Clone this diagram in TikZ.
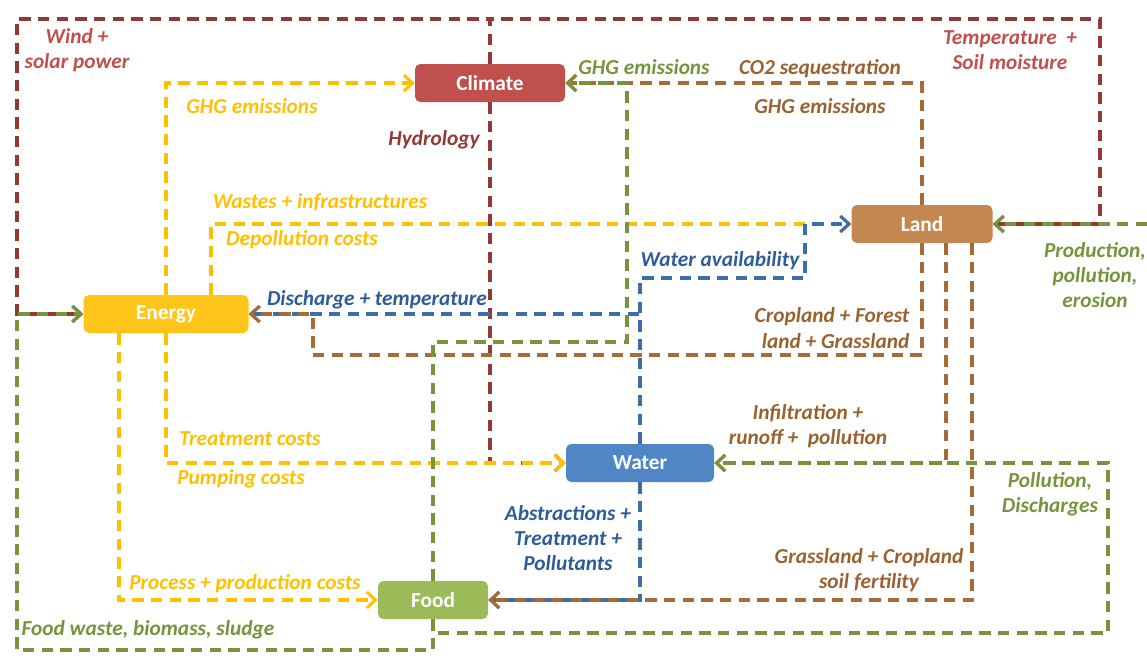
\documentclass[tikz,border=0pt]{standalone}
\usepackage{fontspec}
\setmainfont{Carlito}[Extension=.ttf,UprightFont=*-Regular,BoldFont=*-Bold,ItalicFont=*-Italic,BoldItalicFont=*-BoldItalic]
\usetikzlibrary{arrows.meta}
\definecolor{climatered}{HTML}{C0504D}
\definecolor{darkred}{HTML}{953735}
\definecolor{landbrown}{HTML}{C4874F}
\definecolor{brownline}{HTML}{A86B37}
\definecolor{browntext}{HTML}{9A622F}
\definecolor{energyyellow}{HTML}{FFC619}
\definecolor{yellowline}{HTML}{FFC000}
\definecolor{waterblue}{HTML}{4F86C6}
\definecolor{blueline}{HTML}{3C6EAA}
\definecolor{bluetext}{HTML}{2C5D99}
\definecolor{foodgreen}{HTML}{9BBB59}
\definecolor{greenline}{HTML}{77933C}

\begin{document}
\begin{tikzpicture}[x=0.75pt,y=-0.75pt,
	box/.style={rectangle,rounded corners=4pt,text=white,font=\bfseries\fontsize{16}{19}\selectfont,minimum height=28.5pt},
	flow/.style={line width=2.3pt,dash pattern=on 8.5pt off 5.5pt,-{Straight Barb[length=6.5pt,width=12pt]}},
	lbl/.style={font=\bfseries\itshape\fontsize{16}{19}\selectfont,align=center,inner sep=0pt}]
	\useasboundingbox (0,0) rectangle (1147,662);

	\node[box,fill=climatered,minimum width=112.5pt] (climate) at (490,83) {Climate};
	\node[box,fill=landbrown,minimum width=105.75pt] (land) at (922,224) {Land};
	\node[box,fill=energyyellow,minimum width=123.75pt] (energy) at (166,314) {Energy};
	\node[box,fill=waterblue,minimum width=111pt] (water) at (640,463) {Water};
	\node[box,fill=foodgreen,minimum width=82.5pt] (food) at (433,600) {Food};

	\coordinate (tl) at (17,19);
	\coordinate (tr) at (1100,19);
	\coordinate (wa) at (805,278);
	\coordinate (cf) at (313,355);
	\coordinate (gg) at (627,342);
	\coordinate (fw) at (17,650);
	\coordinate (pd) at (1108,633);
	\coordinate (re) at (1147,224);

	\draw[flow,darkred] (climate.north) |- (tl) |- (energy.west);
	\draw[flow,darkred] (climate.north) |- (tr) |- (land.east);
	\draw[flow,darkred] (climate.south) |- (water.west);

	\draw[flow,yellowline] (energy.north) |- (climate.west);
	\draw[flow,yellowline] ([xshift=33.75pt]energy.north) |- (land.west);
	\draw[flow,yellowline] (energy.south) |- (water.west);
	\draw[flow,yellowline] ([xshift=-35.25pt]energy.south) |- (food.west);

	\draw[flow,blueline] (water.north) |- (energy.east);
	\draw[flow,blueline] (water.north) |- (wa) |- (land.west);
	\draw[flow,blueline] (water.south) |- (food.east);

	\draw[flow,brownline] (land.north) |- (climate.east);
	\draw[flow,brownline] (land.south) |- (cf) |- (energy.east);
	\draw[flow,brownline] ([xshift=18pt]land.south) |- (water.east);
	\draw[flow,brownline] ([xshift=37.5pt]land.south) |- (food.east);

	\draw[flow,greenline] (food.north) |- (gg) |- (climate.east);
	\draw[flow,greenline] (food.south) |- (fw) |- (energy.west);
	\draw[flow,greenline] (food.south) |- (pd) |- (water.east);
	\draw[flow,greenline] (re) -- (land.east);

	\node[lbl,text=climatered] (wind) at (77,50) {Wind +\\solar power};
	\node[lbl,text=climatered] (temp) at (1010,50) {Temperature\ \ +\\Soil moisture};
	\node[lbl,text=darkred] (hydro) at (434,140) {Hydrology};
	\node[lbl,text=yellowline] (ghge) at (252,106) {GHG emissions};
	\node[lbl,text=yellowline] (waste) at (320,202) {Wastes + infrastructures};
	\node[lbl,text=yellowline] (depol) at (302,240) {Depollution costs};
	\node[lbl,text=yellowline] (treat) at (250,439) {Treatment costs};
	\node[lbl,text=yellowline] (pump) at (241,479) {Pumping costs};
	\node[lbl,text=yellowline] (proc) at (245,584) {Process + production costs};
	\node[lbl,text=bluetext] (disch) at (377,300) {Discharge + temperature};
	\node[lbl,text=bluetext] (avail) at (720,261) {Water availability};
	\node[lbl,text=bluetext] (abst) at (568,538) {Abstractions +\\Treatment +\\Pollutants};
	\node[lbl,text=browntext] (co2) at (820,69) {CO2 sequestration};
	\node[lbl,text=browntext] (ghgl) at (820,106) {GHG emissions};
	\node[lbl,text=browntext,align=right] (crop) at (832,328) {Cropland + Forest\\land + Grassland};
	\node[lbl,text=browntext] (infil) at (808,426) {Infiltration +\\runoff +\ \ pollution};
	\node[lbl,text=browntext] (grass) at (869,570) {Grassland + Cropland\\soil fertility};
	\node[lbl,text=greenline] (ghgf) at (644,67) {GHG emissions};
	\node[lbl,text=greenline] (prod) at (1095,275) {Production,\\pollution,\\erosion};
	\node[lbl,text=greenline] (poll) at (1050,494) {Pollution,\\Discharges};
	\node[lbl,text=greenline] (fwaste) at (148,630) {Food waste, biomass, sludge};
\end{tikzpicture}
\end{document}
